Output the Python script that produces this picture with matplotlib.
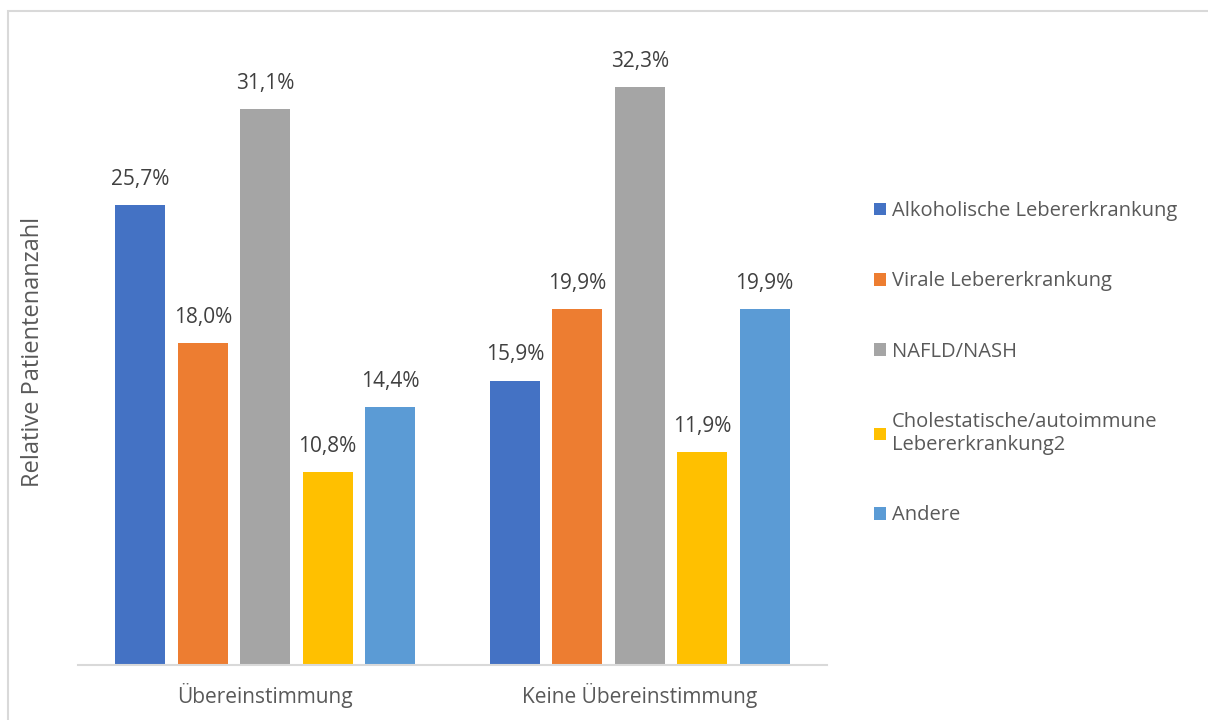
import numpy as np
import matplotlib
matplotlib.use("Agg")
import matplotlib.pyplot as plt
from matplotlib.patches import Rectangle

plt.rcParams['font.family'] = ['Open Sans', 'DejaVu Sans']

# Daten
gruppen = ["Übereinstimmung", "Keine Übereinstimmung"]
kategorien = ["Alkoholische Lebererkrankung", "Virale Lebererkrankung", "NAFLD/NASH",
              "Cholestatische/autoimmune\nLebererkrankung2", "Andere"]
werte = [
    [25.7, 15.9],  # Alkoholische
    [18.0, 19.9],  # Virale
    [31.1, 32.3],  # NAFLD/NASH
    [10.8, 11.9],  # Cholestatische/autoimmune
    [14.4, 19.9],  # Andere
]
farben = ["#4472C4", "#ED7D31", "#A5A5A5", "#FFC000", "#5B9BD5"]

W, H = 1208, 720
fig = plt.figure(figsize=(W / 100, H / 100), dpi=100)
ax = fig.add_axes([78 / W, (H - 665) / H, (827 - 78) / W, (665 - 39) / H])

# Rahmen ums Diagramm
fig.patches.append(Rectangle((8 / W, -0.1), 1.2, (H - 11) / H + 0.1, transform=fig.transFigure,
                             fill=False, edgecolor="#d9d9d9", linewidth=1.5))

x = np.arange(len(gruppen))
slot = 1 / 6
breite = 50 / 374.5
textfarbe = "#595959"

for i, (name, vals) in enumerate(zip(kategorien, werte)):
    pos = x + (i - 2) * slot
    bars = ax.bar(pos, vals, width=breite, color=farben[i], label=name, zorder=2)
    for b, v in zip(bars, vals):
        ax.text(b.get_x() + b.get_width() / 2, v + 0.85, f"{v:.1f}%".replace(".", ","),
                ha="center", va="bottom", fontsize=15, color="#404040")

ax.set_xlim(-0.5, 1.5)
ax.set_ylim(0, 35)
ax.set_xticks(x)
ax.set_xticklabels(gruppen, fontsize=15, color=textfarbe)
ax.tick_params(axis="x", length=0, pad=13)
ax.set_yticks([])
for s in ["top", "right", "left"]:
    ax.spines[s].set_visible(False)
ax.spines["bottom"].set_color("#d9d9d9")
ax.spines["bottom"].set_linewidth(1.5)

fig.text(33 / W, 1 - 352 / H, "Relative Patientenanzahl", rotation=90,
         ha="center", va="center", fontsize=17, color=textfarbe)

leg = ax.legend(loc="upper left", bbox_to_anchor=(866 / W, 1 - 193 / H),
                bbox_transform=fig.transFigure, frameon=False, fontsize=14.5,
                handlelength=0.6, handleheight=0.6, handletextpad=0.3,
                labelspacing=2.5, borderaxespad=0)
for t in leg.get_texts():
    t.set_color(textfarbe)

fig.savefig("out.png", dpi=100)
